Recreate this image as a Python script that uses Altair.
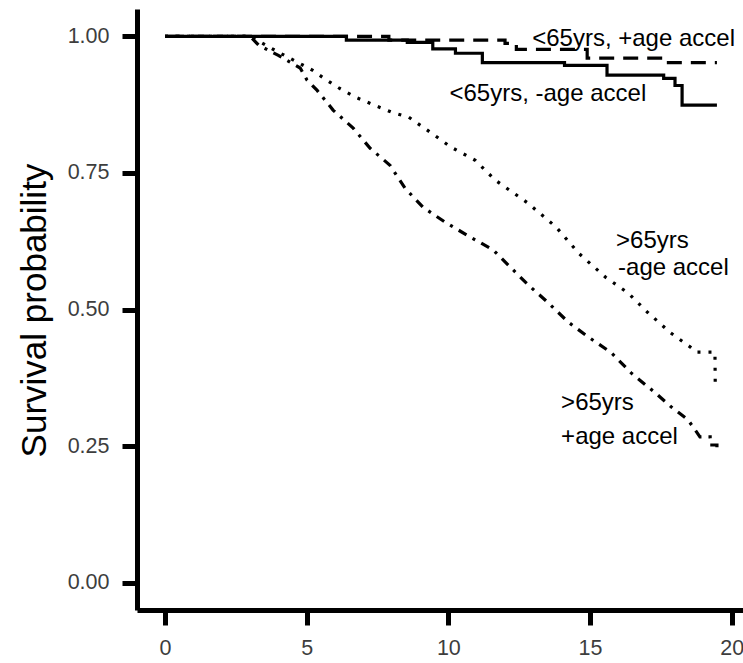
import altair as alt
import pandas as pd

# ---- data (time in years, survival probability) ----
# <65yrs, +age accel (dashed)
t_young_pos = [0, 7.9, 12.0, 12.4, 14.9, 17.6, 19.48]
s_young_pos = [1.0, 0.993, 0.987, 0.976, 0.960, 0.952, 0.952]

# <65yrs, -age accel (solid)
t_young_neg = [0, 6.4, 8.55, 9.45, 10.25, 11.2, 14.1, 15.6, 17.6, 18.0, 18.25, 19.48]
s_young_neg = [1.0, 0.993, 0.989, 0.977, 0.969, 0.952, 0.947, 0.929, 0.923, 0.910, 0.874, 0.874]

# >65yrs, -age accel (dotted)
t_old_neg = [0, 3.0, 3.55, 4.0, 4.7, 5.2, 5.7, 6.15, 6.75, 7.3, 8.0, 8.6, 9.4, 10.1,
             10.95, 11.65, 12.8, 13.8, 14.6, 15.55, 16.35, 17.05, 17.85, 18.55, 18.75,
             19.41, 19.42]
s_old_neg = [1.0, 1.0, 0.984, 0.971, 0.952, 0.938, 0.920, 0.905, 0.888, 0.876, 0.861,
             0.852, 0.823, 0.797, 0.773, 0.737, 0.695, 0.651, 0.603, 0.559, 0.530,
             0.494, 0.457, 0.431, 0.422, 0.422, 0.366]

# >65yrs, +age accel (dot-dash)
t_old_pos = [0, 3.0, 3.3, 4.0, 4.77, 5.01, 5.37, 5.93, 6.64, 7.24, 7.94, 8.47, 9.11,
             9.88, 10.66, 11.58, 12.18, 12.82, 13.53, 14.23, 14.93, 15.75, 16.45,
             17.29, 17.86, 18.46, 18.88, 19.24, 19.24, 19.48, 19.48, 19.5]
s_old_pos = [1.0, 1.0, 0.984, 0.965, 0.942, 0.920, 0.901, 0.865, 0.832, 0.795, 0.764,
             0.722, 0.687, 0.660, 0.636, 0.609, 0.578, 0.545, 0.512, 0.477, 0.450,
             0.421, 0.384, 0.348, 0.322, 0.298, 0.267, 0.267, 0.252, 0.252, 0.243, 0.243]

# annotations
ann_text = ["<65yrs, +age accel", "<65yrs, -age accel", ">65yrs", "-age accel",
            ">65yrs", "+age accel"]
ann_t = [12.96, 10.04, 15.92, 15.99, 13.98, 13.98]
ann_s = [0.996, 0.894, 0.625, 0.576, 0.329, 0.267]

x_ticks = [0, 5, 10, 15, 20]
y_ticks = [0.0, 0.25, 0.5, 0.75, 1.0]

FONT = "Liberation Sans"

x_scale = alt.Scale(domain=[-0.99, 20.4], nice=False, zero=False)
y_scale = alt.Scale(domain=[-0.05, 1.05], nice=False, zero=False)

x_axis = alt.Axis(values=x_ticks, title=None, grid=False, labelFontSize=21.5,
                  labelFont=FONT, labelColor="#3d3d3d", domainColor="black",
                  domainWidth=5, tickColor="black", tickWidth=5, tickSize=15,
                  labelPadding=12, format="d")
y_axis = alt.Axis(values=y_ticks, title="Survival probability", grid=False,
                  labelFontSize=21.5, labelFont=FONT, labelColor="#3d3d3d",
                  domainColor="black", domainWidth=5, tickColor="black",
                  tickWidth=5, tickSize=15, labelPadding=13, format=".2f",
                  titleFont=FONT, titleFontSize=35, titleFontWeight="normal",
                  titleColor="black", titleX=-103, titleY=301, titleAngle=270,
                  titleAlign="center", titleBaseline="middle")


def frame(t, s):
    return pd.DataFrame({"time": t, "surv": s})


def curve(df, dash, interp):
    return alt.Chart(df).mark_line(
        color="black", strokeWidth=3.2, strokeDash=dash, interpolate=interp,
        strokeCap="butt"
    ).encode(
        x=alt.X("time:Q", scale=x_scale, axis=x_axis),
        y=alt.Y("surv:Q", scale=y_scale, axis=y_axis),
    )


l_old_pos = curve(frame(t_old_pos, s_old_pos), [3, 7, 9, 7], "linear")
l_old_neg = curve(frame(t_old_neg, s_old_neg), [3, 8], "linear")
l_young_neg = curve(frame(t_young_neg, s_young_neg), [1, 0], "step-after")
l_young_pos = curve(frame(t_young_pos, s_young_pos), [15, 9], "step-after")

ann = alt.Chart(pd.DataFrame({"label": ann_text, "time": ann_t, "surv": ann_s})).mark_text(
    align="left", baseline="middle", fontSize=24, font=FONT, color="black"
).encode(
    x=alt.X("time:Q", scale=x_scale, axis=x_axis),
    y=alt.Y("surv:Q", scale=y_scale, axis=y_axis),
    text="label:N",
)

chart = alt.layer(l_old_pos, l_old_neg, l_young_neg, l_young_pos, ann).properties(
    width=606, height=601,
    padding={"left": 137, "top": 9, "right": 0, "bottom": 53},
    autosize=alt.AutoSizeParams(type="none"),
    background="white",
).configure_view(stroke=None)

chart.save("out.html", embed_options={"renderer": "svg", "actions": False})
